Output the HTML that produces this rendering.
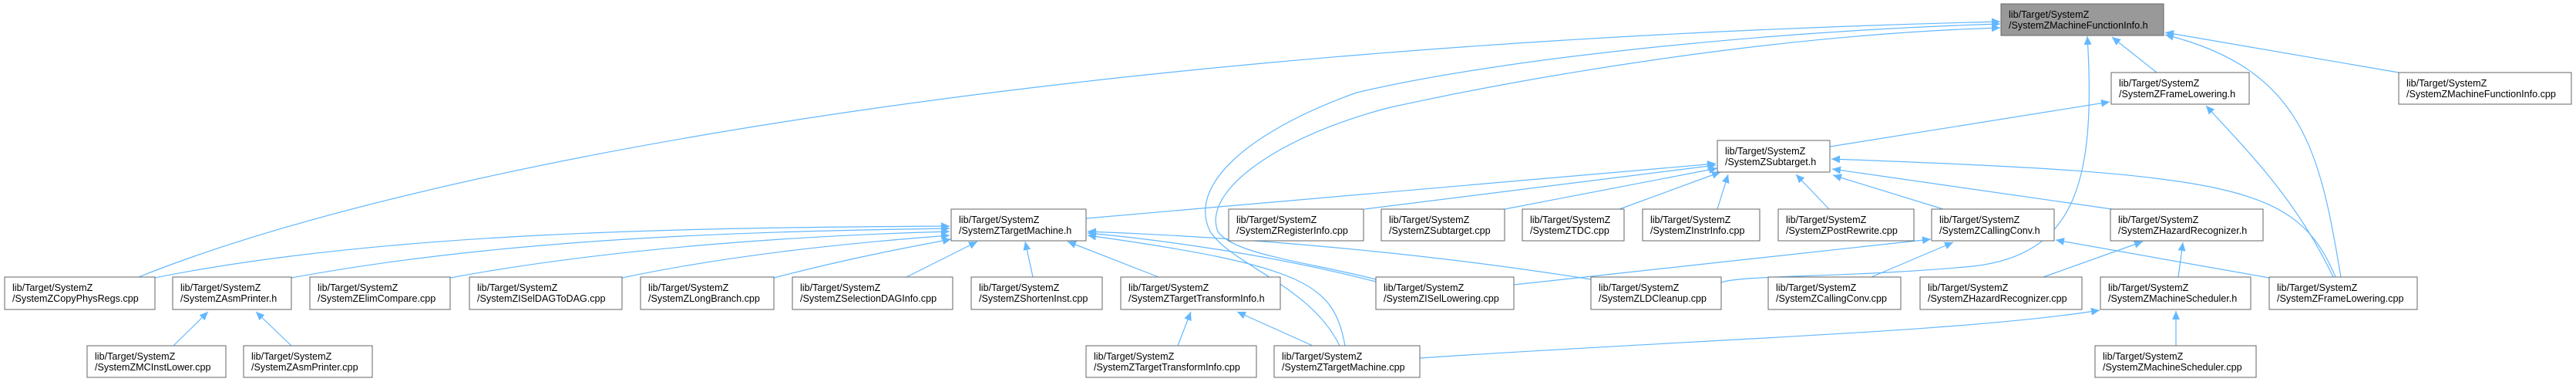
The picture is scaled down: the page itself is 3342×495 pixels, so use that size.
<!DOCTYPE html>
<html><head><meta charset="utf-8"><style>
html,body{margin:0;padding:0;background:#fff;}
svg{display:block;}
text{font-family:"Liberation Sans",Arial,sans-serif;font-size:12.6px;fill:#000;}
.b{fill:#fff;stroke:#666;stroke-width:1;}
.e{fill:none;stroke:#63b8ff;stroke-width:1.2;}
</style></head><body>
<svg width="3342" height="495" viewBox="0 0 3342 495" xmlns="http://www.w3.org/2000/svg">
<defs>
<marker id="a" markerUnits="userSpaceOnUse" markerWidth="12" markerHeight="10" refX="11" refY="5" orient="auto">
<path d="M0,0 L11,5 L0,10 Z" fill="#63b8ff"/>
</marker>
</defs>
<g marker-end="url(#a)">
<!-- to MFI.h -->
<path class="e" d="M180,359 C500,230 1300,60 2595,28"/>
<path class="e" d="M1785,362 C1700,340 1600,330 1580,300 C1560,250 1650,180 1800,140 C1980,100 2300,45 2595,36"/>
<path class="e" d="M1738,448 C1700,370 1600,345 1570,300 C1540,240 1620,170 1760,120 C1950,75 2300,40 2595,31"/>
<path class="e" d="M2233,366 C2260,356 2400,360 2560,345 C2690,330 2720,240 2708,47"/>
<path class="e" d="M2798,94 L2740,48"/>
<path class="e" d="M3037,359 C3010,200 2990,90 2809,45"/>
<path class="e" d="M3112,94 L2809,42"/>
<!-- FrameLowering.h -->
<path class="e" d="M3027,359 C2980,260 2920,200 2862,137"/>
<path class="e" d="M2374,190 L2737,132"/>
<!-- Subtarget.h -->
<path class="e" d="M3030,359 C2980,240 2900,225 2376,206"/>
<path class="e" d="M1409,283 L2226,212"/>
<path class="e" d="M1770,271 L2226,214"/>
<path class="e" d="M1952,271 L2228,218"/>
<path class="e" d="M2101,271 L2232,223"/>
<path class="e" d="M2228,271 L2242,226"/>
<path class="e" d="M2373,271 L2330,226"/>
<path class="e" d="M2521,271 L2378,227"/>
<path class="e" d="M2740,271 L2377,219"/>
<!-- CallingConv.h -->
<path class="e" d="M1964,369 L2505,310"/>
<path class="e" d="M2428,359 L2534,314"/>
<path class="e" d="M2944,360 L2667,311"/>
<!-- HazardRecognizer.h -->
<path class="e" d="M2651,359 L2780,313"/>
<path class="e" d="M2826,359 L2832,314"/>
<!-- MachineScheduler.h -->
<path class="e" d="M2823,448 L2823,403"/>
<path class="e" d="M1842,464 C2200,440 2550,430 2724,402"/>
<!-- TargetMachine.h -->
<path class="e" d="M201,360 C500,300 900,295 1232,293"/>
<path class="e" d="M378,360 C650,310 950,300 1232,296"/>
<path class="e" d="M584,360 C800,320 1050,305 1232,300"/>
<path class="e" d="M807,360 C950,330 1100,315 1232,305"/>
<path class="e" d="M1004,360 C1100,335 1180,320 1234,310"/>
<path class="e" d="M1176,359 L1268,313"/>
<path class="e" d="M1340,359 L1330,313"/>
<path class="e" d="M1503,359 L1385,313"/>
<path class="e" d="M1785,365 C1650,330 1500,310 1411,302"/>
<path class="e" d="M2064,362 C1800,320 1550,305 1411,300"/>
<path class="e" d="M1745,448 C1730,370 1700,345 1411,305"/>
<!-- AsmPrinter.h -->
<path class="e" d="M225,448 L270,404"/>
<path class="e" d="M378,448 L332,404"/>
<!-- TTI.h -->
<path class="e" d="M1528,448 L1545,404"/>
<path class="e" d="M1703,448 L1605,404"/>
</g>
<g>
<rect x="2596" y="5" width="211" height="41" fill="#999" stroke="#666"/>
<text x="2606" y="23">lib/Target/SystemZ</text><text x="2606" y="37">/SystemZMachineFunctionInfo.h</text>

<rect class="b" x="2739" y="94" width="179" height="41"/><text x="2749" y="112">lib/Target/SystemZ</text><text x="2749" y="126">/SystemZFrameLowering.h</text>
<rect class="b" x="3112" y="94" width="224" height="41"/><text x="3122" y="112">lib/Target/SystemZ</text><text x="3122" y="126">/SystemZMachineFunctionInfo.cpp</text>

<rect class="b" x="2228" y="182" width="146" height="41"/><text x="2238" y="200">lib/Target/SystemZ</text><text x="2238" y="214">/SystemZSubtarget.h</text>

<rect class="b" x="1234" y="271" width="175" height="41"/><text x="1244" y="289">lib/Target/SystemZ</text><text x="1244" y="303">/SystemZTargetMachine.h</text>
<rect class="b" x="1594" y="271" width="175" height="41"/><text x="1604" y="289">lib/Target/SystemZ</text><text x="1604" y="303">/SystemZRegisterInfo.cpp</text>
<rect class="b" x="1792" y="271" width="160" height="41"/><text x="1802" y="289">lib/Target/SystemZ</text><text x="1802" y="303">/SystemZSubtarget.cpp</text>
<rect class="b" x="1975" y="271" width="132" height="41"/><text x="1985" y="289">lib/Target/SystemZ</text><text x="1985" y="303">/SystemZTDC.cpp</text>
<rect class="b" x="2131" y="271" width="152" height="41"/><text x="2141" y="289">lib/Target/SystemZ</text><text x="2141" y="303">/SystemZInstrInfo.cpp</text>
<rect class="b" x="2307" y="271" width="176" height="41"/><text x="2317" y="289">lib/Target/SystemZ</text><text x="2317" y="303">/SystemZPostRewrite.cpp</text>
<rect class="b" x="2506" y="271" width="159" height="41"/><text x="2516" y="289">lib/Target/SystemZ</text><text x="2516" y="303">/SystemZCallingConv.h</text>
<rect class="b" x="2738" y="271" width="198" height="41"/><text x="2748" y="289">lib/Target/SystemZ</text><text x="2748" y="303">/SystemZHazardRecognizer.h</text>

<rect class="b" x="6" y="359" width="195" height="42"/><text x="16" y="377">lib/Target/SystemZ</text><text x="16" y="391">/SystemZCopyPhysRegs.cpp</text>
<rect class="b" x="224" y="359" width="154" height="42"/><text x="234" y="377">lib/Target/SystemZ</text><text x="234" y="391">/SystemZAsmPrinter.h</text>
<rect class="b" x="402" y="359" width="182" height="42"/><text x="412" y="377">lib/Target/SystemZ</text><text x="412" y="391">/SystemZElimCompare.cpp</text>
<rect class="b" x="609" y="359" width="198" height="42"/><text x="619" y="377">lib/Target/SystemZ</text><text x="619" y="391">/SystemZISelDAGToDAG.cpp</text>
<rect class="b" x="831" y="359" width="173" height="42"/><text x="841" y="377">lib/Target/SystemZ</text><text x="841" y="391">/SystemZLongBranch.cpp</text>
<rect class="b" x="1028" y="359" width="208" height="42"/><text x="1038" y="377">lib/Target/SystemZ</text><text x="1038" y="391">/SystemZSelectionDAGInfo.cpp</text>
<rect class="b" x="1260" y="359" width="170" height="42"/><text x="1270" y="377">lib/Target/SystemZ</text><text x="1270" y="391">/SystemZShortenInst.cpp</text>
<rect class="b" x="1454" y="359" width="207" height="42"/><text x="1464" y="377">lib/Target/SystemZ</text><text x="1464" y="391">/SystemZTargetTransformInfo.h</text>
<rect class="b" x="1785" y="359" width="179" height="42"/><text x="1795" y="377">lib/Target/SystemZ</text><text x="1795" y="391">/SystemZISelLowering.cpp</text>
<rect class="b" x="2064" y="359" width="169" height="42"/><text x="2074" y="377">lib/Target/SystemZ</text><text x="2074" y="391">/SystemZLDCleanup.cpp</text>
<rect class="b" x="2294" y="359" width="172" height="42"/><text x="2304" y="377">lib/Target/SystemZ</text><text x="2304" y="391">/SystemZCallingConv.cpp</text>
<rect class="b" x="2491" y="359" width="210" height="42"/><text x="2501" y="377">lib/Target/SystemZ</text><text x="2501" y="391">/SystemZHazardRecognizer.cpp</text>
<rect class="b" x="2725" y="359" width="195" height="42"/><text x="2735" y="377">lib/Target/SystemZ</text><text x="2735" y="391">/SystemZMachineScheduler.h</text>
<rect class="b" x="2944" y="359" width="192" height="42"/><text x="2954" y="377">lib/Target/SystemZ</text><text x="2954" y="391">/SystemZFrameLowering.cpp</text>

<rect class="b" x="113" y="448" width="180" height="41"/><text x="123" y="466">lib/Target/SystemZ</text><text x="123" y="480">/SystemZMCInstLower.cpp</text>
<rect class="b" x="316" y="448" width="167" height="41"/><text x="326" y="466">lib/Target/SystemZ</text><text x="326" y="480">/SystemZAsmPrinter.cpp</text>
<rect class="b" x="1409" y="448" width="221" height="41"/><text x="1419" y="466">lib/Target/SystemZ</text><text x="1419" y="480">/SystemZTargetTransformInfo.cpp</text>
<rect class="b" x="1653" y="448" width="189" height="41"/><text x="1663" y="466">lib/Target/SystemZ</text><text x="1663" y="480">/SystemZTargetMachine.cpp</text>
<rect class="b" x="2718" y="448" width="209" height="41"/><text x="2728" y="466">lib/Target/SystemZ</text><text x="2728" y="480">/SystemZMachineScheduler.cpp</text>
</g>
</svg>
</body></html>
